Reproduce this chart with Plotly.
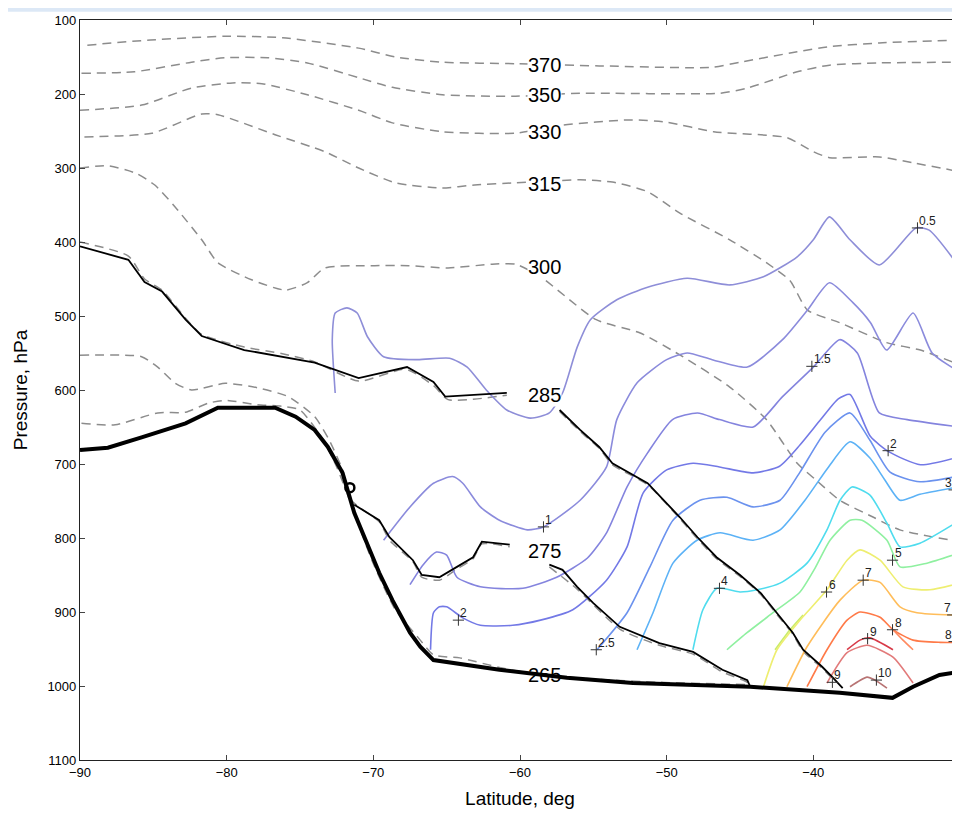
import plotly.graph_objects as go

# ---------------- data (latitude deg, pressure hPa) ----------------
# potential temperature isentropes (dashed)
th370 = [(-89.5,134),(-85.2,127),(-80.1,122),(-76.2,124),(-71.0,138),(-68.5,150),(-65.3,157),(-60.3,159),
         (-54.6,162),(-46.9,164),(-45.0,157),(-41.1,143),(-38.9,136),(-35.5,131),(-30,127)]
th350 = [(-89.9,172),(-86.3,170),(-82.4,157),(-80.1,151),(-77.2,151),(-74.5,158),(-71.0,178),(-68.7,191),
         (-65.3,201),(-60.3,203),(-55.9,199),(-46.4,199),(-44.5,192),(-41.1,170),(-38.9,161),(-35.5,158),(-30,157)]
th330 = [(-90,222),(-85.8,215),(-82.4,192),(-79.6,185),(-77.6,186),(-74.5,201),(-71.0,222),(-68.7,239),
         (-65.3,251),(-60.3,253),(-57.1,242),(-52.5,235),(-50.0,238),(-46.8,251),(-41.8,259),(-40.0,278),
         (-38.9,286),(-35.5,285),(-33.2,293),(-30,305)]
th315 = [(-89.7,258),(-85.1,253),(-81.7,227),(-80.6,228),(-76.7,255),(-73.3,278),(-71.0,300),(-68.5,320),
         (-65.3,327),(-63.1,323),(-60.3,320),(-55.9,316),(-53.7,319),(-51.3,332),(-49.1,361),(-45.7,397),
         (-43.2,428),(-41.6,452),(-40.4,492),(-38.2,509),(-35.0,536),(-32.7,546),(-30,566)]
th300 = [(-90,300),(-88.1,297),(-86.2,307),(-84.9,323),(-83.5,353),(-81.7,397),(-80.6,428),(-78.3,451),
         (-76.0,465),(-74.5,455),(-73.3,435),(-69.9,432),(-67.6,432),(-64.9,435),(-61.9,430),(-60.3,430),
         (-58.6,447),(-54.8,505),(-51.8,523),(-48.9,555),(-45.7,596),(-43.2,640),(-41.1,699),(-39.8,722),
         (-38.2,749),(-35.9,772),(-34.1,789),(-30,805)]
th285_a = [(-90,400),(-86.7,419),(-85.6,450),(-84.4,465),(-82.8,503),(-81.7,525),(-78.8,542),(-76.2,551),
           (-74.0,562),(-71.0,588),(-67.8,572),(-65.9,594),(-64.9,613),(-60.9,607)]
th285_b = [(-57.3,629),(-55.9,656),(-54.6,679),(-53.7,701),(-51.3,728),(-49.1,774),(-47.9,801),(-46.6,828),
           (-45.0,852),(-43.6,876),(-42.5,903),(-41.4,930),(-40.7,953),(-39.4,976),(-38.7,990)]
th275_a = [(-90,553),(-85.8,555),(-84.7,569),(-83.5,591),(-82.4,600),(-80.1,591),(-77.9,597),(-75.8,609),
           (-74.0,636),(-73.0,668),(-72.1,708),(-71.5,749),(-69.6,778),(-68.9,803),(-67.3,832),(-66.7,853),
           (-65.5,857),(-64.3,842),(-63.2,828),(-62.6,808),(-60.7,812)]
th275_b = [(-58.0,839),(-56.1,869),(-53.2,923),(-50.5,945),(-48.2,957),(-46.2,981),(-44.5,995),(-44.3,1001)]
th265 = [(-89.9,645),(-87.6,647),(-84.7,631),(-82.8,630),(-81.3,618),(-80.1,614),(-77.9,620),(-76.2,622),
         (-75.0,627),(-73.4,668),(-72.5,704),(-71.5,755),(-70.1,830),(-68.5,897),(-66.8,938),(-65.9,958),
         (-64.1,962),(-61.4,975),(-58.6,985),(-54.6,991),(-50.5,995),(-44.5,998)]

# coloured contours (levels)
c05 = [(-72.6,604),(-72.8,532),(-72.6,496),(-71.8,489),(-71.1,496),(-70.4,528),(-69.3,555),(-67.0,559),
       (-64.8,557),(-63.6,569),(-62.3,600),(-60.9,627),(-59.3,638),(-58.0,631),(-57.1,604),(-56.1,542),
       (-55.2,505),(-53.4,478),(-51.3,461),(-48.6,449),(-45.7,458),(-43.4,447),(-41.1,420),(-40.0,397),
       (-38.9,366),(-37.5,397),(-35.5,431),(-33.0,381),(-32.1,384),(-30,435)]
c1 = [(-69.3,803),(-67.5,758),(-65.9,726),(-64.6,717),(-63.9,726),(-62.7,758),(-61.4,776),(-59.5,789),
      (-58.4,785),(-55.9,749),(-54.1,704),(-53.4,640),(-52.0,590),(-50.0,559),(-48.6,550),(-46.9,559),
      (-44.5,569),(-42.1,532),(-40.4,492),(-38.9,455),(-37.3,482),(-36.1,509),(-35.0,546),(-33.2,496),
      (-31.9,550),(-30.0,576)]
c15 = [(-67.5,863),(-66.6,836),(-65.7,819),(-65.0,823),(-64.3,853),(-62.7,866),(-59.8,868),(-57.5,853),
       (-55.4,827),(-54.1,793),(-52.7,731),(-51.3,685),(-49.6,640),(-47.9,631),(-46.4,640),(-44.1,650),
       (-42.1,609),(-40.0,569),(-38.2,532),(-37.0,550),(-35.5,631),(-33.6,640),(-30,650)]
c2 = [(-66.1,951),(-65.9,901),(-65.5,893),(-65.0,893),(-63.9,908),(-62.7,918),(-60.5,918),(-58.6,911),
      (-56.4,897),(-54.1,857),(-52.7,812),(-51.6,739),(-50.0,708),(-48.2,699),(-46.4,704),(-44.1,712),
      (-42.3,703),(-40.9,674),(-39.5,640),(-38.3,612),(-37.5,606),(-36.1,663),(-34.8,684),(-32.7,701),(-30,690)]
c25 = [(-54.75,951),(-52.7,901),(-51.14,839),(-49.57,776),(-47.73,749),(-45.89,745),(-44.11,758),(-42.27,749),
       (-40.91,711),(-39.2,657),(-37.5,631),(-36.14,668),(-34.77,711),(-32.73,724),(-30,716)]
c3 = [(-52.02,951),(-50.93,901),(-49.57,834),(-47.93,803),(-46.36,793),(-44.11,803),(-42.27,789),(-40.57,749),
      (-39.0,705),(-37.5,670),(-36.14,692),(-35.11,722),(-34.09,749),(-32.73,741),(-30.14,731)]
c4 = [(-48.21,951),(-47.53,897),(-46.57,868),(-45.0,873),(-43.84,870),(-42.27,861),(-40.43,834),(-39.07,789),
      (-38.18,749),(-37.36,731),(-36.14,742),(-34.98,780),(-34.09,812),(-32.73,807),(-30,776)]
c5 = [(-45.89,951),(-44.52,928),(-42.75,901),(-40.91,873),(-39.89,841),(-38.86,803),(-37.5,776),(-36.68,776),
      (-34.98,803),(-34.09,839),(-32.25,834),(-30,820)]
c55 = [(-42.61,951),(-41.59,924),(-40.70,904)]
c6 = [(-43.43,1003),(-42.48,951),(-40.91,911),(-39.07,870),(-37.70,830),(-36.82,816),(-35.45,830),
      (-33.89,866),(-32.05,870),(-30,861)]
c7 = [(-41.80,1001),(-40.43,947),(-38.18,884),(-36.61,857),(-35.45,860),(-34.09,893),(-32.93,901),(-30.48,904),(-30,904)]
c8 = [(-40.43,1001),(-39.07,951),(-37.70,911),(-36.82,900),(-35.45,907),(-34.57,924),(-33.2,938),(-31.36,941),(-30,941)]
c8b = [(-34.57,924),(-33.89,938),(-33.20,951)]
c9 = [(-37.70,951),(-36.82,938),(-36.14,935),(-34.57,951)]
c9b = [(-39.07,996),(-37.70,955),(-36.34,945),(-34.57,961),(-33.20,996)]
c10 = [(-37.5,1001),(-36.34,988),(-35.80,992),(-34.98,1003)]

# solid black lines
front_upper_a = [(-90,406),(-86.7,424),(-85.6,454),(-84.4,467),(-82.8,505),(-81.7,527),(-78.8,546),(-76.2,555),
                 (-74.0,563),(-71.0,584),(-67.7,569),(-65.9,589),(-65.1,609),(-60.9,604)]
front_upper_b = [(-57.3,627),(-55.9,654),(-54.6,677),(-53.7,699),(-51.3,726),(-49.1,772),(-47.9,799),(-46.6,826),
                 (-45.0,850),(-43.6,874),(-42.5,901),(-41.4,928),(-40.7,951),(-39.4,974),(-38.7,988),(-38.0,1003)]
front_lower_a = [(-71.3,755),(-69.6,776),(-68.9,799),(-67.3,830),(-66.7,850),(-65.5,853),(-64.3,839),(-63.2,826),
                 (-62.6,805),(-60.7,809)]
front_lower_b = [(-58.0,836),(-57.1,843),(-56.1,866),(-55.0,888),(-53.2,920),(-50.5,942),(-48.2,954),(-46.2,978),
                 (-44.5,992),(-44.3,1001)]
ground = [(-90,681),(-88.1,678),(-85.8,664),(-82.8,645),(-80.6,624),(-76.7,624),(-75.3,636),(-74.0,654),
          (-73.1,677),(-72.1,712),(-71.3,766),(-69.6,847),(-68.7,884),(-67.5,928),(-66.8,947),(-65.9,965),
          (-61.4,978),(-56.8,989),(-52.3,996),(-44.3,1001),(-38.2,1009),(-34.6,1016),(-33.2,1001),(-31.4,985),(-30,981)]
marker_o = (-71.6, 732)

# isentrope labels
theta_lab_txt = ["370", "350", "330", "315", "300", "285", "275", "265"]
theta_lab_lat = [-58.3] * 8
theta_lab_p = [161, 201, 251, 322, 434, 607, 818, 985]

# contour labels (+ markers)
clab_txt = ["0.5", "1", "1.5", "2", "3", "2", "2.5", "4", "5", "6", "7", "7", "8", "8", "9", "9", "10"]
clab_lat = [-32.9, -58.4, -40.1, -34.9, -30.4, -64.2, -54.8, -46.4, -34.6, -39.1, -36.6, -30.5, -34.6, -30.4, -36.3, -38.7, -35.7]
clab_p = [381, 785, 568, 682, 735, 911, 951, 868, 830, 873, 857, 904, 924, 940, 936, 995, 992]

x_ticks = [-90, -80, -70, -60, -50, -40, -30]
y_ticks = [100, 200, 300, 400, 500, 600, 700, 800, 900, 1000, 1100]

# ---------------- figure ----------------
fig = go.Figure()


def add_line(pts, color, width, dash=None, shape="spline", smoothing=0.6):
    fig.add_trace(go.Scatter(
        x=[p[0] for p in pts], y=[p[1] for p in pts], mode="lines",
        line=dict(color=color, width=width, dash=dash, shape=shape,
                  smoothing=smoothing if shape == "spline" else None),
        hoverinfo="skip", showlegend=False))


GRAY = "#8c8c8c"
DASH = "9px,6px"
for th in [th370, th350, th330, th315, th300, th285_a, th285_b, th275_a, th275_b, th265]:
    add_line(th, GRAY, 1.5, DASH)

contours = [
    (c05, "#8e8ed8"), (c1, "#8b8bdc"), (c15, "#8484de"), (c2, "#7379e6"),
    (c25, "#6b92ee"), (c3, "#5cb2f6"), (c4, "#4fdcee"), (c5, "#8ff0a0"),
    (c55, "#c8ec6a"), (c6, "#eeee70"), (c7, "#ffbd5a"), (c8, "#ff7a48"),
    (c8b, "#ff8a60"), (c9, "#d83a48"), (c9b, "#e27a7a"), (c10, "#b87474"),
]
for pts, col in contours:
    add_line(pts, col, 1.6)

for pts in [front_upper_a, front_upper_b, front_lower_a, front_lower_b]:
    add_line(pts, "black", 1.8, shape="linear")
add_line(ground, "black", 4, shape="linear")

fig.add_trace(go.Scatter(x=[marker_o[0]], y=[marker_o[1]], mode="markers",
                         marker=dict(symbol="circle-open", size=9, color="black", line=dict(width=2.5)),
                         hoverinfo="skip", showlegend=False))

fig.add_trace(go.Scatter(x=clab_lat, y=clab_p, mode="markers", cliponaxis=False,
                         marker=dict(symbol="cross-thin", size=8, color="#333", line=dict(width=1, color="#333")),
                         hoverinfo="skip", showlegend=False))

for t, la, pr in zip(clab_txt, clab_lat, clab_p):
    at_edge = la > -31
    fig.add_annotation(x=la, y=pr, text=t, showarrow=False,
                       xanchor="right" if at_edge else "left", yanchor="bottom",
                       xshift=0, yshift=-2, font=dict(size=12, color="#222", family="Liberation Sans, Arial"))

for t, la, pr in zip(theta_lab_txt, theta_lab_lat, theta_lab_p):
    fig.add_annotation(x=la, y=pr, text=t, showarrow=False, xanchor="center", yanchor="middle",
                       bgcolor=None if t == "265" else "white", borderpad=0,
                       font=dict(size=20, color="black", family="Liberation Sans, Arial"))

# slide background band at top
fig.add_shape(type="rect", xref="paper", yref="paper", x0=-0.2, x1=1.1, y0=1.011, y1=1.02,
              fillcolor="#dce8f6", line=dict(width=0), layer="below")

axis_common = dict(showline=True, linecolor="#222", linewidth=1.2, mirror="ticks", ticks="inside",
                   ticklen=5, tickcolor="#444", showgrid=False, zeroline=False, automargin=False,
                   tickfont=dict(size=13, color="black", family="Liberation Sans, Arial"))

fig.update_xaxes(range=[-90, -30], tickvals=x_ticks,
                 title=dict(text="Latitude, deg", font=dict(size=19, color="black", family="Liberation Sans, Arial"),
                            standoff=12),
                 **axis_common)
fig.update_yaxes(range=[1100, 100], tickvals=y_ticks,
                 title=dict(text="Pressure, hPa", font=dict(size=19, color="black", family="Liberation Sans, Arial"),
                            standoff=14),
                 **axis_common)

# page body has an 8px margin: figure starts at (8, 8)
fig.update_layout(width=952, height=805, margin=dict(l=72, r=0, t=12, b=53, autoexpand=False),
                  paper_bgcolor="white", plot_bgcolor="white", showlegend=False)

fig.write_html("out.html")
